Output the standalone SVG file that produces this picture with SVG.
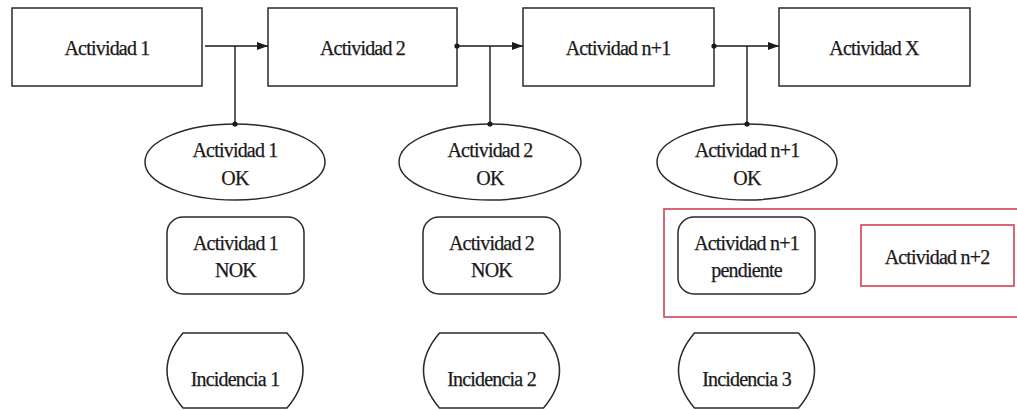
<svg xmlns="http://www.w3.org/2000/svg" width="1017" height="410" viewBox="0 0 1017 410" font-family="'Liberation Serif', 'DejaVu Serif', serif">
  <defs>
    <style>
      .shape { fill: #ffffff; stroke: #2a2a2a; stroke-width: 1.5; }
      .red { fill: none; stroke: #d2424f; stroke-width: 1.6; }
      .line { fill: none; stroke: #1a1a1a; stroke-width: 1.4; }
      .dot { fill: #1a1a1a; }
      .lbl { font-family: 'Liberation Serif', 'Times New Roman', serif; font-size: 20px; fill: #1a1a1a; text-anchor: middle; letter-spacing: -0.8px; stroke: #1a1a1a; stroke-width: 0.25; }
    </style>
    <marker id="arrow" viewBox="0 0 11 8" refX="11" refY="4" markerWidth="11" markerHeight="8" markerUnits="userSpaceOnUse" orient="auto">
      <path d="M0,0 L11,4 L0,8 Z" fill="#1a1a1a"/>
    </marker>
  </defs>

  <rect width="1017" height="410" fill="#ffffff"/>

  <!-- pending group frame -->
  <g id="pending-frame">
    <rect class="red" x="664" y="209" width="360" height="108"/>
  </g>

  <!-- main flow -->
  <g id="act1">
    <rect class="shape" x="12" y="8" width="190" height="78"/>
    <text class="lbl" x="107" y="55">Actividad 1</text>
  </g>
  <g id="act2">
    <rect class="shape" x="268" y="8" width="189" height="78"/>
    <text class="lbl" x="362.5" y="55">Actividad 2</text>
  </g>
  <g id="actn1">
    <rect class="shape" x="523" y="8" width="191" height="78"/>
    <text class="lbl" x="618" y="55">Actividad n+1</text>
  </g>
  <g id="actx">
    <rect class="shape" x="779" y="8" width="191" height="78"/>
    <text class="lbl" x="874" y="55">Actividad X</text>
  </g>

  <!-- OK states -->
  <g id="ok1">
    <ellipse class="shape" cx="235" cy="162" rx="90" ry="38"/>
    <text class="lbl" x="235" y="157">Actividad 1</text>
    <text class="lbl" x="235" y="185">OK</text>
  </g>
  <g id="ok2">
    <ellipse class="shape" cx="490" cy="162" rx="91" ry="38"/>
    <text class="lbl" x="490" y="157">Actividad 2</text>
    <text class="lbl" x="490" y="185">OK</text>
  </g>
  <g id="okn1">
    <ellipse class="shape" cx="747" cy="162" rx="90" ry="38"/>
    <text class="lbl" x="747" y="157">Actividad n+1</text>
    <text class="lbl" x="747" y="185">OK</text>
  </g>

  <!-- NOK / pending states -->
  <g id="nok1">
    <rect class="shape" x="167" y="217" width="137" height="77" rx="16" ry="16"/>
    <text class="lbl" x="235.5" y="250">Actividad 1</text>
    <text class="lbl" x="235.5" y="277">NOK</text>
  </g>
  <g id="nok2">
    <rect class="shape" x="423" y="217" width="137" height="77" rx="16" ry="16"/>
    <text class="lbl" x="491.5" y="250">Actividad 2</text>
    <text class="lbl" x="491.5" y="277">NOK</text>
  </g>
  <g id="pendn1">
    <rect class="shape" x="678" y="217" width="137" height="77" rx="16" ry="16"/>
    <text class="lbl" x="746.5" y="250">Actividad n+1</text>
    <text class="lbl" x="746.5" y="277">pendiente</text>
  </g>
  <g id="actn2">
    <rect class="red" x="861" y="225" width="153" height="61"/>
    <text class="lbl" x="937" y="264">Actividad n+2</text>
  </g>

  <!-- incidents -->
  <g id="inc1">
    <path class="shape" d="M183,333 H287 Q319,370.5 287,408 H183 Q151,370.5 183,333 Z"/>
    <text class="lbl" x="235" y="386">Incidencia 1</text>
  </g>
  <g id="inc2">
    <path class="shape" d="M439.5,333 H543.5 Q575.5,370.5 543.5,408 H439.5 Q407.5,370.5 439.5,333 Z"/>
    <text class="lbl" x="491.5" y="386">Incidencia 2</text>
  </g>
  <g id="inc3">
    <path class="shape" d="M694.5,333 H798.5 Q830.5,370.5 798.5,408 H694.5 Q662.5,370.5 694.5,333 Z"/>
    <text class="lbl" x="746.5" y="386">Incidencia 3</text>
  </g>

  <!-- connectors -->
  <g id="connectors">
    <line class="line" x1="205" y1="46" x2="268" y2="46" marker-end="url(#arrow)"/>
    <line class="line" x1="457" y1="46" x2="523" y2="46" marker-end="url(#arrow)"/>
    <line class="line" x1="714" y1="46" x2="779" y2="46" marker-end="url(#arrow)"/>
    <line class="line" x1="235" y1="46" x2="235" y2="124"/>
    <line class="line" x1="490" y1="46" x2="490" y2="124"/>
    <line class="line" x1="747" y1="46" x2="747" y2="124"/>
    <circle class="dot" cx="457" cy="46" r="2.6"/>
    <circle class="dot" cx="714" cy="46" r="2.6"/>
    <circle class="dot" cx="235" cy="124" r="2.6"/>
    <circle class="dot" cx="490" cy="124" r="2.6"/>
    <circle class="dot" cx="747" cy="124" r="2.6"/>
  </g>
</svg>
